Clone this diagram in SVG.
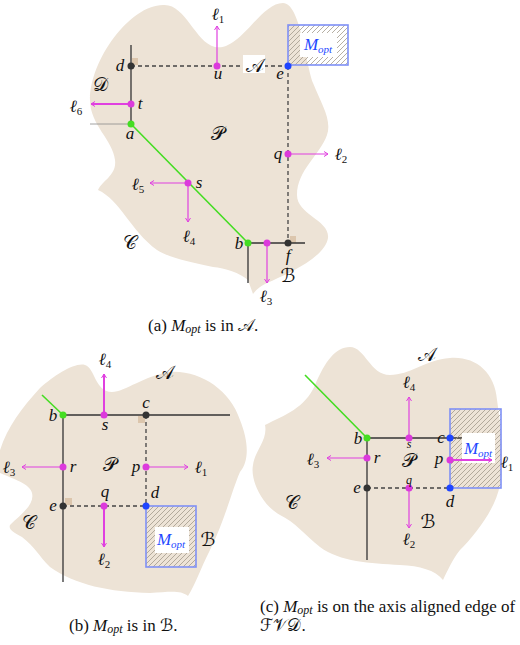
<svg xmlns="http://www.w3.org/2000/svg" width="520" height="645" viewBox="0 0 520 645">
<style>
.blob{fill:#ede3d6;stroke:none}
.solid{stroke:#333;stroke-width:1.3;fill:none}
.thin{stroke:#8a8a8a;stroke-width:0.8;fill:none}
.dash{stroke:#444;stroke-width:1.3;stroke-dasharray:4 3;fill:none}
.green{stroke:#44dd22;stroke-width:1.6;fill:none}
.mag{stroke:#e040e0;stroke-width:1.2;fill:none;marker-end:url(#ah)}
.magb{stroke:#e040e0;stroke-width:2;fill:none;marker-end:url(#ah)}
.box{stroke:#7f90f5;stroke-width:1.6;fill:url(#hatch)}
.dm{fill:#dc3adc}.dk{fill:#333}.dg{fill:#44dd22}.db{fill:#1f45ff}
.sq{fill:#dcc6ad}
text{font-family:"Liberation Serif","DejaVu Serif",serif;font-style:italic;font-size:17px;fill:#111;text-anchor:middle}
.sub{font-size:11px;font-style:normal}
.subi{font-size:11px;font-style:italic}
.cal{font-family:"DejaVu Serif","DejaVu Sans","Noto Sans",serif;font-style:normal;font-size:19px}
.mo{fill:#2347ff}
.cap{font-style:normal;font-size:17px;text-anchor:start}
.cap .cal{font-size:17px}
.cap .subi{font-size:12px}
.sm{font-size:12px}
</style>
<defs>
<marker id="ah" markerUnits="userSpaceOnUse" markerWidth="8" markerHeight="8" refX="5" refY="3" orient="auto">
<path d="M1,0.5 L5,3 L1,5.5" fill="none" stroke="#e040e0" stroke-width="1"/>
</marker>
<pattern id="hatch" patternUnits="userSpaceOnUse" width="5" height="5">
<path d="M-1,1 L1,-1 M0,5 L5,0 M4,6 L6,4" stroke="#a39a8c" stroke-width="0.8"/>
</pattern>
</defs>

<!-- ===== Figure (a) ===== -->
<g id="fig-a">
<path class="blob" d="M163,5 C185,3 195,42 215,47 C240,52 260,3 283,3 C300,3 305,60 313,83 C322,105 332,120 327,135 C320,155 297,170 297,195 C297,215 330,220 328,238 C325,258 285,275 267,283 Q258,287 253,294 L248,280 C240,273 225,268 213,267 C190,262 170,258 157,250 C130,230 120,200 98,190 C103,180 117,175 115,160 C113,140 90,125 90,100 C90,60 130,5 163,5 Z"/>
<rect class="sq" x="132" y="58" width="6" height="7"/>
<rect class="sq" x="290" y="236" width="6" height="7"/>
<g id="a-connectors">
<line class="dash" x1="131" y1="66" x2="288" y2="66"/>
<line class="dash" x1="288" y1="66" x2="288" y2="243"/>
<line class="solid" x1="131" y1="45" x2="131" y2="124"/>
<line class="thin" x1="90" y1="124" x2="131" y2="124"/>
<line class="green" x1="131" y1="124" x2="248" y2="243"/>
<line class="solid" x1="248" y1="243" x2="305" y2="243"/>
<line class="solid" x1="248" y1="243" x2="248" y2="283"/>
<line class="mag" x1="217" y1="66" x2="217" y2="26"/>
<line class="magb" x1="131" y1="104" x2="91" y2="104"/>
<line class="mag" x1="288" y1="154" x2="328" y2="154"/>
<line class="mag" x1="188" y1="183" x2="150" y2="183"/>
<line class="mag" x1="188" y1="183" x2="188" y2="222"/>
<line class="mag" x1="267" y1="243" x2="267" y2="283"/>
</g>
<g id="a-Mopt"><rect class="box" x="288" y="25" width="60" height="40"/><rect x="300" y="33" width="37" height="24" fill="#fff"/><text class="mo" x="318" y="50">M<tspan class="subi" dy="3">opt</tspan></text></g>
<g id="a-A"><rect x="243" y="55" width="22" height="18" fill="#fff"/><text class="cal" x="255" y="72">𝒜</text></g>
<g id="a-d"><circle class="dk" cx="131" cy="66" r="3.5"/><text x="120" y="71">d</text></g>
<g id="a-u"><circle class="dm" cx="217" cy="66" r="3.5"/><text x="218" y="79">u</text></g>
<g id="a-e"><circle class="db" cx="288" cy="66" r="3.5"/><text x="280" y="79">e</text></g>
<g id="a-t"><circle class="dm" cx="131" cy="104" r="3.5"/><text x="140" y="109">t</text></g>
<g id="a-a"><circle class="dg" cx="131" cy="124" r="3.5"/><text x="130" y="139">a</text></g>
<g id="a-q"><circle class="dm" cx="288" cy="154" r="3.5"/><text x="278" y="159">q</text></g>
<g id="a-s"><circle class="dm" cx="188" cy="183" r="3.5"/><text x="199" y="188">s</text></g>
<g id="a-b"><circle class="dg" cx="248" cy="243" r="3.5"/><text x="239" y="249">b</text></g>
<g id="a-m3"><circle class="dm" cx="267" cy="243" r="3.5"/></g>
<g id="a-f"><circle class="dk" cx="288" cy="243" r="3.5"/><text x="288" y="261">f</text></g>
<g id="a-labels">
<text x="218" y="20">ℓ<tspan class="sub" dy="3">1</tspan></text>
<text x="341" y="160">ℓ<tspan class="sub" dy="3">2</tspan></text>
<text x="266" y="302">ℓ<tspan class="sub" dy="3">3</tspan></text>
<text x="189" y="242">ℓ<tspan class="sub" dy="3">4</tspan></text>
<text x="138" y="190">ℓ<tspan class="sub" dy="3">5</tspan></text>
<text x="76" y="112">ℓ<tspan class="sub" dy="3">6</tspan></text>
<text class="cal" x="100" y="91">𝒟</text>
<text class="cal" x="218" y="140">𝒫</text>
<text class="cal" x="130" y="249">𝒞</text>
<text class="cal" x="288" y="282" font-size="17">ℬ</text>
</g>
<text class="cap" x="148" y="331">(a) <tspan font-style="italic">M</tspan><tspan class="subi" dy="2">opt</tspan><tspan dy="-2"> is in </tspan><tspan class="cal">𝒜</tspan>.</text>
</g>

<!-- ===== Figure (b) ===== -->
<g id="fig-b">
<path class="blob" d="M-2,457 C5,430 20,410 40,388 C55,375 75,362 85,365 C95,368 95,392 112,392 C125,392 145,375 170,372 C200,370 230,390 240,420 C248,440 250,460 240,472 C232,490 225,520 210,550 C200,570 195,585 188,596 C180,590 170,592 150,593 C110,592 75,585 50,567 C38,555 35,547 22,537 C15,533 8,530 10,525 C20,515 35,505 32,493 C30,483 10,478 -2,472 Z"/>
<rect class="sq" x="138" y="416" width="7" height="7"/>
<rect class="sq" x="65" y="498" width="7" height="7"/>
<g id="b-connectors">
<line class="green" x1="42" y1="395" x2="63" y2="415"/>
<line class="solid" x1="63" y1="415" x2="230" y2="415"/>
<line class="solid" x1="63" y1="415" x2="63" y2="582"/>
<line class="dash" x1="146" y1="415" x2="146" y2="506"/>
<line class="dash" x1="63" y1="506" x2="146" y2="506"/>
<line class="magb" x1="104" y1="415" x2="104" y2="374"/>
<line class="mag" x1="63" y1="467" x2="22" y2="467"/>
<line class="mag" x1="146" y1="467" x2="188" y2="467"/>
<line class="magb" x1="104" y1="506" x2="104" y2="547"/>
</g>
<g id="b-Mopt"><rect class="box" x="146" y="506" width="50" height="61"/><rect x="155" y="527" width="34" height="26" fill="#fff"/><text class="mo" x="171" y="545">M<tspan class="subi" dy="3">opt</tspan></text></g>
<g id="b-b"><circle class="dg" cx="63" cy="415" r="3.5"/><text x="53" y="421">b</text></g>
<g id="b-s"><circle class="dm" cx="104" cy="415" r="3.5"/><text x="105" y="430">s</text></g>
<g id="b-c"><circle class="dk" cx="146" cy="415" r="3.5"/><text x="146" y="408">c</text></g>
<g id="b-r"><circle class="dm" cx="63" cy="467" r="3.5"/><text x="73" y="472">r</text></g>
<g id="b-p"><circle class="dm" cx="146" cy="467" r="3.5"/><text x="136" y="472">p</text></g>
<g id="b-e"><circle class="dk" cx="63" cy="506" r="3.5"/><text x="53" y="511">e</text></g>
<g id="b-q"><circle class="dm" cx="104" cy="506" r="3.5"/><text x="105" y="497">q</text></g>
<g id="b-d"><circle class="db" cx="146" cy="506" r="3.5"/><text x="155" y="498">d</text></g>
<g id="b-labels">
<text x="201" y="473">ℓ<tspan class="sub" dy="3">1</tspan></text>
<text x="104" y="565">ℓ<tspan class="sub" dy="3">2</tspan></text>
<text x="9" y="473">ℓ<tspan class="sub" dy="3">3</tspan></text>
<text x="105" y="365">ℓ<tspan class="sub" dy="3">4</tspan></text>
<text class="cal" x="165" y="379">𝒜</text>
<text class="cal" x="110" y="471">𝒫</text>
<text class="cal" x="29" y="529">𝒞</text>
<text class="cal" x="208" y="546">ℬ</text>
</g>
<text class="cap" x="69" y="631">(b) <tspan font-style="italic">M</tspan><tspan class="subi" dy="2">opt</tspan><tspan dy="-2"> is in </tspan><tspan class="cal">ℬ</tspan>.</text>
</g>

<!-- ===== Figure (c) ===== -->
<g id="fig-c">
<path class="blob" d="M265,425 C285,415 305,408 315,385 C325,362 335,347 350,347 C365,347 370,375 390,375 C410,375 425,360 450,358 C475,356 495,372 497,400 C500,420 505,460 500,485 C495,510 475,535 460,550 C452,560 447,572 443,580 C435,570 420,566 400,565 C370,563 340,562 320,547 C305,535 295,522 280,515 C262,505 250,480 253,465 C255,450 268,440 265,425 Z"/>
<g id="c-connectors">
<line class="green" x1="305" y1="375" x2="367" y2="438"/>
<line class="solid" x1="367" y1="438" x2="462" y2="438"/>
<line class="solid" x1="367" y1="438" x2="367" y2="560"/>
<line class="dash" x1="367" y1="488" x2="450" y2="488"/>
<line class="mag" x1="409" y1="438" x2="409" y2="397"/>
<line class="mag" x1="367" y1="458" x2="327" y2="458"/>
<line class="mag" x1="409" y1="488" x2="409" y2="528"/>
</g>
<g id="c-Mopt"><rect class="box" x="450" y="409" width="51" height="79"/><rect x="462" y="433" width="33" height="30" fill="#fff"/><text class="mo" x="478" y="454">M<tspan class="subi" dy="3">opt</tspan></text></g>
<line class="magb" x1="450" y1="460" x2="492" y2="460"/>
<g id="c-b"><circle class="dg" cx="367" cy="438" r="3.5"/><text x="358" y="444">b</text></g>
<g id="c-s"><circle class="dm" cx="409" cy="438" r="3.5"/><text class="sm" x="409" y="448">s</text></g>
<g id="c-c"><circle class="db" cx="450" cy="438" r="3.5"/><text x="441" y="443">c</text></g>
<g id="c-r"><circle class="dm" cx="367" cy="458" r="3.5"/><text x="377" y="463">r</text></g>
<g id="c-p"><circle class="dm" cx="450" cy="460" r="3.5"/><text x="439" y="464">p</text></g>
<g id="c-e"><circle class="dk" cx="367" cy="488" r="3.5"/><text x="357" y="493">e</text></g>
<g id="c-q"><circle class="dm" cx="409" cy="488" r="3.5"/><text class="sm" x="409" y="484">q</text></g>
<g id="c-d"><circle class="db" cx="450" cy="488" r="3.5"/><text x="450" y="507">d</text></g>
<g id="c-labels">
<text x="507" y="468">ℓ<tspan class="sub" dy="3">1</tspan></text>
<text x="409" y="545">ℓ<tspan class="sub" dy="3">2</tspan></text>
<text x="313" y="465">ℓ<tspan class="sub" dy="3">3</tspan></text>
<text x="409" y="388">ℓ<tspan class="sub" dy="3">4</tspan></text>
<text class="cal" x="427" y="361">𝒜</text>
<text class="cal" x="409" y="467" font-size="11">𝒫</text>
<text class="cal" x="292" y="509">𝒞</text>
<text class="cal" x="428" y="528">ℬ</text>
</g>
<text class="cap" x="260" y="612">(c) <tspan font-style="italic">M</tspan><tspan class="subi" dy="2">opt</tspan><tspan dy="-2"> is on the axis aligned edge of</tspan></text>
<text class="cap" x="260" y="631"><tspan class="cal">ℱ𝒱𝒟</tspan>.</text>
</g>
</svg>
